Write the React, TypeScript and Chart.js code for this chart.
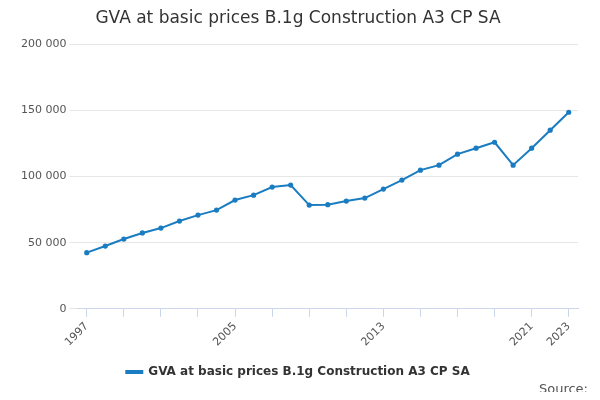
import React, { useEffect, useRef } from "react";
import { Chart, registerables } from "chart.js";
Chart.register(...registerables);

const years = ["1997","1998","1999","2000","2001","2002","2003","2004","2005","2006","2007","2008","2009","2010","2011","2012","2013","2014","2015","2016","2017","2018","2019","2020","2021","2022","2023"];
const gva = [42500,47500,52800,57400,61100,66400,70900,74700,82300,86000,92100,93600,78500,78800,81500,83800,90600,97400,104900,108700,117000,121500,126000,108700,121500,135100,148700];
const seriesLabel = "GVA at basic prices B.1g Construction A3 CP SA";
const titleText = "GVA at basic prices B.1g Construction A3 CP SA";

const sourcePlugin = {
  id: "sourceText",
  afterDraw(chart: any) {
    const ctx = chart.ctx;
    ctx.save();
    ctx.font = "13px 'DejaVu Sans'";
    ctx.fillStyle = "#555";
    ctx.textAlign = "right";
    ctx.textBaseline = "middle";
    ctx.fillText("Source:", chart.width - 4, chart.height - 2);
    ctx.restore();
  },
};

export default function App() {
  const ref = useRef<HTMLCanvasElement>(null);
  useEffect(() => {
    const chart = new Chart(ref.current!, {
      type: "line",
      data: {
        labels: years,
        datasets: [{
          label: seriesLabel,
          data: gva,
          borderColor: "#1a7cc1",
          backgroundColor: "#1a7cc1",
          borderWidth: 2,
          pointRadius: 1.6,
          tension: 0,
        }],
      },
      options: {
        responsive: false,
        animation: false,
        layout: { padding: { left: 10, right: 14, bottom: 4, top: 0 } },
        plugins: {
          title: { display: true, text: titleText, color: "#333", font: { family: "DejaVu Sans", size: 17, weight: "normal" }, padding: { top: 0, bottom: 16 } },
          legend: {
            position: "bottom",
            labels: { color: "#333", font: { family: "DejaVu Sans", size: 12, weight: "bold" }, boxWidth: 16, boxHeight: 2, padding: 14 },
          },
        },
        scales: {
          x: {
            offset: true,
            grid: { drawOnChartArea: false, color: "#ccd6eb", tickLength: 8, offset: false },
            border: { color: "#ccd6eb" },
            ticks: {
              autoSkip: false,
              maxRotation: 45, minRotation: 45,
              color: "#555",
              font: { family: "DejaVu Sans", size: 11 },
              callback: (_v: any, i: number) => {
                if (i % 8 === 0 || i === years.length - 1) return years[i];
                if (i % 2 === 0) return "";
                return null as any;
              },
            },
          },
          y: {
            min: 0, max: 200000,
            grid: { color: "#e6e6e6" },
            border: { display: false },
            ticks: {
              stepSize: 50000,
              color: "#555",
              font: { family: "DejaVu Sans", size: 11 },
              callback: (v: any) => Number(v).toString().replace(/\B(?=(\d{3})+(?!\d))/g, " "),
            },
          },
        },
      },
      plugins: [sourcePlugin],
    });
    return () => chart.destroy();
  }, []);
  return <canvas ref={ref} width={584} height={384} style={{ display: "block" }} />;
}
